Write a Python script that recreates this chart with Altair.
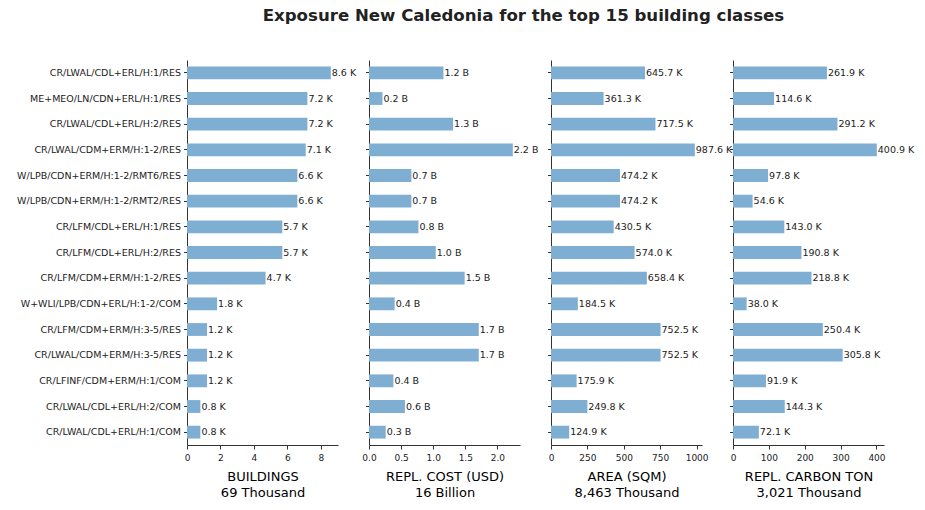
import altair as alt
import pandas as pd

# Top 15 building classes (in display order, top to bottom)
classes = [
    "CR/LWAL/CDL+ERL/H:1/RES",
    "ME+MEO/LN/CDN+ERL/H:1/RES",
    "CR/LWAL/CDL+ERL/H:2/RES",
    "CR/LWAL/CDM+ERM/H:1-2/RES",
    "W/LPB/CDN+ERM/H:1-2/RMT6/RES",
    "W/LPB/CDN+ERM/H:1-2/RMT2/RES",
    "CR/LFM/CDL+ERL/H:1/RES",
    "CR/LFM/CDL+ERL/H:2/RES",
    "CR/LFM/CDM+ERM/H:1-2/RES",
    "W+WLI/LPB/CDN+ERL/H:1-2/COM",
    "CR/LFM/CDM+ERM/H:3-5/RES",
    "CR/LWAL/CDM+ERM/H:3-5/RES",
    "CR/LFINF/CDM+ERM/H:1/COM",
    "CR/LWAL/CDL+ERL/H:2/COM",
    "CR/LWAL/CDL+ERL/H:1/COM",
]

# Number of buildings (thousands)
buildings = [8.6, 7.2, 7.2, 7.1, 6.6, 6.6, 5.7, 5.7, 4.7, 1.8, 1.2, 1.2, 1.2, 0.8, 0.8]
# Replacement cost (billion USD)
repl_cost = [1.16, 0.21, 1.31, 2.24, 0.66, 0.66, 0.77, 1.04, 1.49, 0.40, 1.71, 1.71, 0.38, 0.56, 0.26]
# Floor area (thousand m2)
area = [645.7, 361.3, 717.5, 987.6, 474.2, 474.2, 430.5, 574.0, 658.4, 184.5, 752.5, 752.5, 175.9, 249.8, 124.9]
# Replacement carbon (thousand tons)
carbon = [261.9, 114.6, 291.2, 400.9, 97.8, 54.6, 143.0, 190.8, 218.8, 38.0, 250.4, 305.8, 91.9, 144.3, 72.1]

# Panel titles and totals over all classes
panel_names = ["BUILDINGS", "REPL. COST (USD)", "AREA (SQM)", "REPL. CARBON TON"]
panel_totals = ["69 Thousand", "16 Billion", "8,463 Thousand", "3,021 Thousand"]
panel_units = ["K", "B", "K", "K"]
panel_ticks = [
    [0, 2, 4, 6, 8],
    [0.0, 0.5, 1.0, 1.5, 2.0],
    [0, 250, 500, 750, 1000],
    [0, 100, 200, 300, 400],
]
panel_tick_format = ["d", ".1f", "d", "d"]

df = pd.DataFrame({
    "cls": classes,
    "buildings": buildings,
    "cost": repl_cost,
    "area": area,
    "carbon": carbon,
})
fields = ["buildings", "cost", "area", "carbon"]

FONT = "DejaVu Sans"
BAR = "#7eafd3"
INK = "#333333"


def panel(i):
    field = fields[i]
    vmax = float(df[field].max())
    xscale = alt.Scale(domain=[0, vmax * 1.05], nice=False, zero=True)
    xaxis = alt.Axis(
        title=[panel_names[i], panel_totals[i]],
        values=panel_ticks[i],
        format=panel_tick_format[i],
        labelFontSize=9,
        labelColor="#222222",
        labelPadding=4,
        labelOverlap=False,
        tickSize=4,
        titleFontSize=13,
        titleFontWeight="normal",
        titleColor="#000000",
        titleLineHeight=16,
        titlePadding=8,
        labelFlush=False,
    )
    yaxis = alt.Axis(
        title=None,
        labels=(i == 0),
        labelFontSize=9.5,
        labelColor="#222222",
        labelPadding=3,
        labelLimit=300,
        ticks=True,
        tickSize=3.5,
        domain=True,
    )
    base = alt.Chart(df).transform_calculate(
        lbl=f"format(datum.{field}, '.1f') + ' {panel_units[i]}'"
    ).encode(
        x=alt.X(f"{field}:Q", scale=xscale, axis=xaxis),
        y=alt.Y(
            "cls:N",
            sort=classes,
            axis=yaxis,
            scale=alt.Scale(paddingInner=0.5, paddingOuter=0.25),
        ),
    )
    bars = base.mark_bar(color=BAR)
    texts = base.mark_text(
        align="left", baseline="middle", dx=1, fontSize=9.5, color="#222222", font=FONT
    ).encode(text="lbl:N")
    return alt.layer(bars, texts).properties(width=151, height=385)


chart = alt.hconcat(
    *[panel(i) for i in range(4)], spacing=31, bounds="flush"
).properties(
    title=alt.TitleParams(
        "Exposure New Caledonia for the top 15 building classes",
        fontSize=16.6,
        fontWeight="bold",
        color="#222222",
        font=FONT,
        anchor="middle",
        offset=35,
        dx=58,
    ),
    padding={"left": 16, "top": 8, "right": 5, "bottom": 5},
).configure(font=FONT).configure_axis(
    grid=False,
    domainColor=INK,
    tickColor=INK,
    labelFont=FONT,
    titleFont=FONT,
).configure_view(stroke=None)

chart.save("out.html", embed_options={"renderer": "svg", "actions": False})
